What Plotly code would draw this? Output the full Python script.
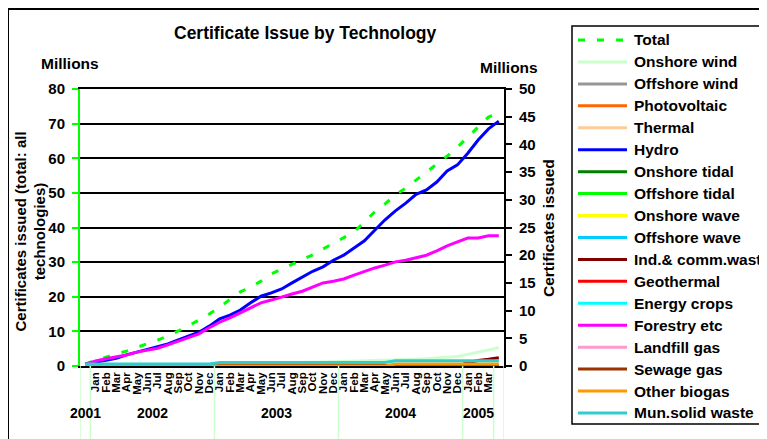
import plotly.graph_objects as go

# ---------------- data ----------------
months = ["Jan", "Feb", "Mar", "Apr", "May", "Jun", "Jul", "Aug", "Sep", "Oct", "Nov", "Dec"]
month_labels = [""] + months + months + months + ["Jan", "Feb", "Mar"] + [""]
year_groups = ["2001", "2002", "2003", "2004", "2005", ""]
year_sizes = [1, 12, 12, 12, 3, 1]

total = [0.6, 1.6, 2.6, 3.5, 4.3, 5.3, 6.4, 7.5, 8.7, 10.1, 11.6, 13.3, 15.0,
         17.0, 19.1, 21.4, 22.8, 24.5, 26.6, 28.0, 29.5, 30.9, 32.1, 33.8, 35.5,
         37.0, 38.7, 41.6, 44.5, 46.8, 49.4, 51.4, 53.7, 56.0, 58.3, 60.6, 63.2,
         66.1, 69.0, 71.9, 73.1]
hydro = [0.3, 0.7, 1.1, 1.4, 2.0, 2.5, 2.9, 3.4, 4.0, 4.7, 5.4, 6.1, 7.2,
         8.5, 9.2, 10.1, 11.4, 12.6, 13.2, 13.9, 15.0, 16.1, 17.1, 17.9, 19.1,
         20.0, 21.3, 22.6, 24.5, 26.4, 28.0, 29.4, 31.0, 31.8, 33.2, 35.2, 36.3,
         38.4, 40.8, 42.8, 44.2]
forestry = [0.3, 0.9, 1.3, 1.6, 2.0, 2.5, 2.9, 3.2, 3.8, 4.5, 5.2, 5.8, 6.9,
            7.9, 8.7, 9.6, 10.6, 11.4, 11.9, 12.5, 13.0, 13.5, 14.3, 15.0, 15.3,
            15.7, 16.4, 17.1, 17.7, 18.2, 18.8, 19.1, 19.5, 20.0, 20.8, 21.7, 22.4,
            23.1, 23.1, 23.5, 23.5]
onshore_wind = [0.0, 0.05, 0.05, 0.1, 0.1, 0.1, 0.15, 0.15, 0.2, 0.2, 0.25, 0.25, 0.3,
                0.35, 0.35, 0.4, 0.4, 0.45, 0.5, 0.5, 0.55, 0.6, 0.6, 0.65, 0.7,
                0.75, 0.8, 0.85, 0.9, 0.95, 1.0, 1.1, 1.2, 1.3, 1.4, 1.5, 1.7,
                2.1, 2.5, 2.9, 3.3]
mun_solid_waste = [0.35] * 13 + [0.65] * 17 + [0.95] * 11
other_biogas = [0.0] * 30 + [0.35] * 11
ind_comm_waste = [0.0] * 37 + [0.6, 1.0, 1.2, 1.5]
sewage_gas = [0.1] * 41
zeros = [0.0] * 41

series_names = ["Onshore wind", "Offshore wind", "Photovoltaic", "Thermal", "Hydro",
                "Onshore tidal", "Offshore tidal", "Onshore wave", "Offshore wave",
                "Ind.& comm.waste", "Geothermal", "Energy crops", "Forestry etc",
                "Landfill gas", "Sewage gas", "Other biogas", "Mun.solid waste"]
series_values = [onshore_wind, zeros, zeros, zeros, hydro,
                 zeros, zeros, zeros, zeros,
                 ind_comm_waste, zeros, zeros, forestry,
                 zeros, sewage_gas, other_biogas, mun_solid_waste]
series_colors = ["#ccffcc", "#969696", "#ff6600", "#ffcc99", "#0000ff",
                 "#008000", "#00ff00", "#ffff00", "#00ccff",
                 "#800000", "#ff0000", "#00ffff", "#ff00ff",
                 "#ff99cc", "#993300", "#ff9900", "#33cccc"]
total_color = "#00ff00"

# ---------------- layout geometry ----------------
FW, FH = 767, 439
OFF = 8                      # page body margin offset
PL, PR, PT, PB = 80, 504, 89, 366   # plot area in screen pixels
L, T = PL - OFF, PT - OFF
R, B = FW - (PR - OFF), FH - (PB - OFF)
PW, PH = PR - PL, PB - PT
FONT = "Arial, Liberation Sans, sans-serif"


def px(xs_):
    return (xs_ - PL) / PW


def py(ys_):
    return (PB - ys_) / PH


n = len(total)
xs = [i + 0.5 for i in range(n)]

fig = go.Figure()
fig.add_trace(go.Scatter(x=xs, y=total, name="Total", mode="lines", yaxis="y",
                         line=dict(color=total_color, width=3, dash="7px,12px"),
                         showlegend=False))
for name, vals, col in zip(series_names, series_values, series_colors):
    fig.add_trace(go.Scatter(x=xs, y=vals, name=name, mode="lines", yaxis="y2",
                             line=dict(color=col, width=3), showlegend=False))

shapes = []
annotations = []

# category group dividers and year labels
bounds = [0]
for s in year_sizes:
    bounds.append(bounds[-1] + s)
for b in bounds:
    shapes.append(dict(type="line", xref="x", yref="paper", x0=b, x1=b,
                       y0=0, y1=py(445), line=dict(color="#ccffcc", width=1.5)))
for g, a, b in zip(year_groups, bounds[:-1], bounds[1:]):
    if g:
        annotations.append(dict(text="<b>%s</b>" % g, x=(a + b) / 2, y=py(413), xref="x", yref="paper",
                                showarrow=False, xanchor="center", yanchor="middle",
                                font=dict(family=FONT, size=14, color="black")))

# outer chart border and legend box
shapes.append(dict(type="rect", xref="paper", yref="paper", x0=px(8), x1=px(790),
                   y0=py(460), y1=py(9), line=dict(color="black", width=2)))
shapes.append(dict(type="rect", xref="paper", yref="paper", x0=px(572), x1=px(790),
                   y0=py(424), y1=py(26), line=dict(color="black", width=1.5)))

# legend rows
legend_names = ["Total"] + series_names
legend_colors = [total_color] + series_colors
for k, (name, col) in enumerate(zip(legend_names, legend_colors)):
    yrow = 40 + k * 21.94
    shapes.append(dict(type="line", xref="paper", yref="paper", x0=px(578), x1=px(627),
                       y0=py(yrow), y1=py(yrow),
                       line=dict(color=col, width=3, dash="7px,12px" if k == 0 else "solid")))
    annotations.append(dict(text="<b>%s</b>" % name, x=px(632), y=py(yrow), xref="paper", yref="paper",
                            showarrow=False, xanchor="left", yanchor="middle",
                            font=dict(family=FONT, size=15.5, color="black")))

# titles
titles = [
    dict(text="<b>Certificate Issue by Technology</b>", x=px(305.5), y=py(33),
         font=dict(family=FONT, size=17.5, color="black")),
    dict(text="<b>Millions</b>", x=px(69.5), y=py(63), font=dict(family=FONT, size=15.5, color="black")),
    dict(text="<b>Millions</b>", x=px(508.5), y=py(67), font=dict(family=FONT, size=15.5, color="black")),
    dict(text="<b>Certificates issued (total: all<br>technologies)</b>", x=px(29.5), y=py(232),
         textangle=-90, font=dict(family=FONT, size=15, color="black")),
    dict(text="<b>Certificates issued</b>", x=px(548), y=py(228),
         textangle=-90, font=dict(family=FONT, size=15.5, color="black")),
]
for a in titles:
    a.update(xref="paper", yref="paper", showarrow=False, xanchor="center", yanchor="middle")
annotations += titles

fig.update_layout(
    width=FW, height=FH,
    margin=dict(l=L, r=R, t=T, b=B, pad=0),
    paper_bgcolor="white", plot_bgcolor="white",
    showlegend=False,
    xaxis=dict(range=[0, n], tickmode="array", tickvals=xs, ticktext=month_labels,
               tickangle=-90, ticks="", showgrid=False, zeroline=False,
               showline=True, linecolor="black", linewidth=1.5, mirror=True,
               tickfont=dict(family=FONT, size=11.5, color="black", weight="bold")),
    yaxis=dict(range=[0, 80], dtick=10, showgrid=True, gridcolor="black", gridwidth=1.5,
               zeroline=False, showline=True, linecolor="#00ff00", linewidth=2,
               ticks="outside", tickcolor="#00ff00", ticklen=6, tickwidth=1.5,
               ticklabelstandoff=4,
               tickfont=dict(family=FONT, size=15, color="black", weight="bold")),
    yaxis2=dict(range=[0, 50], dtick=5, overlaying="y", side="right", anchor="x",
                showgrid=False, zeroline=False, showline=True, linecolor="black", linewidth=2,
                ticks="outside", tickcolor="black", ticklen=6, tickwidth=1.5,
                ticklabelstandoff=4,
                tickfont=dict(family=FONT, size=15, color="black", weight="bold")),
    yaxis3=dict(range=[0, 50], dtick=5, overlaying="y", side="right", anchor="x",
                showgrid=False, zeroline=False, showline=False, showticklabels=False,
                ticks="inside", tickcolor="black", ticklen=6, tickwidth=1.5),
    shapes=shapes,
    annotations=annotations,
)

fig.write_html("out.html")
